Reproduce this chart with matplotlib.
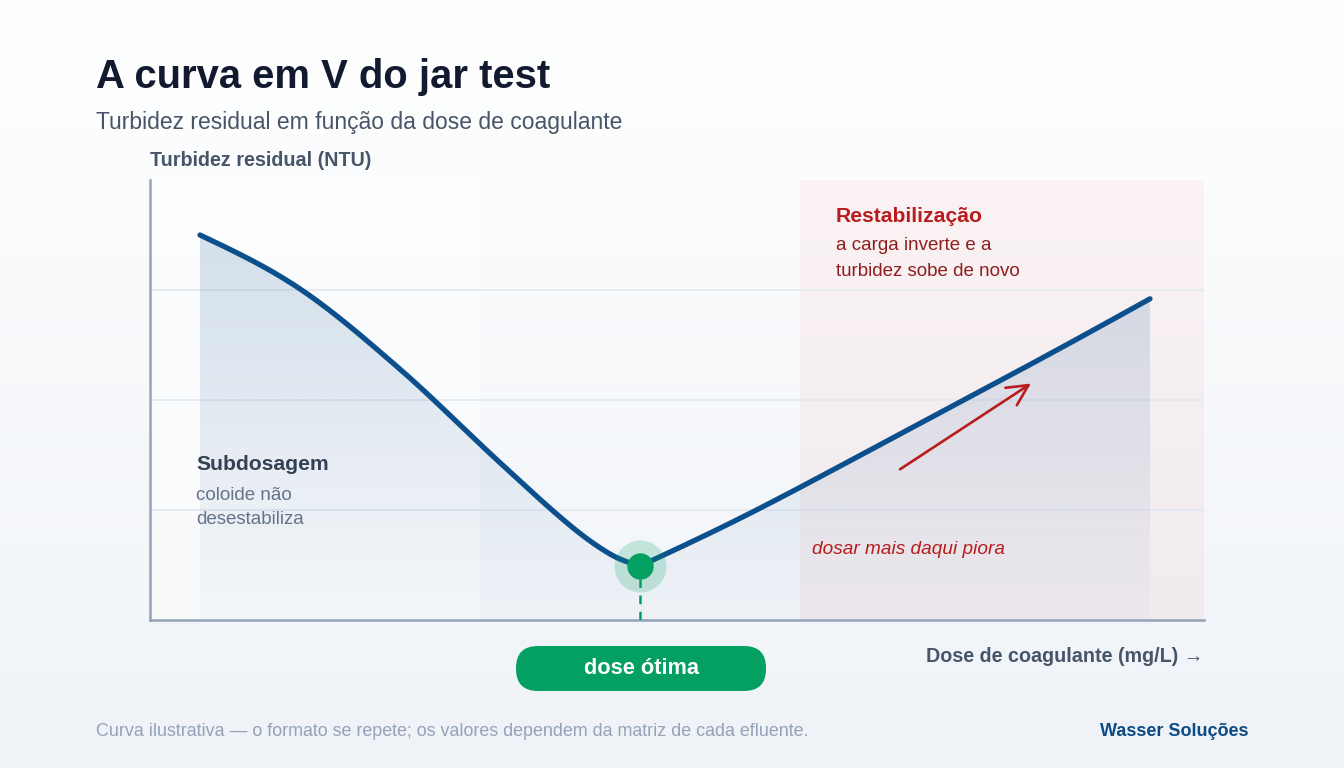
import numpy as np
import matplotlib
matplotlib.use("Agg")
import matplotlib.pyplot as plt
from matplotlib.patches import FancyBboxPatch

plt.rcParams['font.family'] = ['Liberation Sans', 'DejaVu Sans']

# data (illustrative curve, dose in mg/L, turbidity in NTU)
dose_left = [5, 15, 25, 35, 42, 46, 49]
turb_left = [3.50, 3.01, 2.28, 1.43, 0.86, 0.60, 0.49]
dose_right = [49, 60, 75, 90, 100]
turb_right = [0.49, 0.97, 1.69, 2.42, 2.92]
dose_opt = 49
turb_opt = 0.49
under_zone = (0, 33)
over_zone = (65, 105.4)
grid_levels = [1, 2, 3]

NAVY = "#0b4f8c"
GREEN = "#03a062"
RED = "#b91c1c"
SLATE = "#475569"

W, H = 1344, 768


def hermite(xs, ys, n=40):
    # smooth drawing path through the read points
    x = np.asarray(xs, float)
    y = np.asarray(ys, float)
    d = np.diff(y) / np.diff(x)
    m = np.zeros_like(y)
    m[1:-1] = (y[2:] - y[:-2]) / (x[2:] - x[:-2])
    m[0] = (3 * d[0] - m[1]) / 2
    m[-1] = (3 * d[-1] - m[-2]) / 2
    px, py = [], []
    t = np.linspace(0, 1, n, endpoint=False)
    for i in range(len(x) - 1):
        h = x[i + 1] - x[i]
        h00 = 2 * t**3 - 3 * t**2 + 1
        h10 = t**3 - 2 * t**2 + t
        h01 = -2 * t**3 + 3 * t**2
        h11 = t**3 - t**2
        px.append(x[i] + h * t)
        py.append(h00 * y[i] + h10 * h * m[i] + h01 * y[i + 1] + h11 * h * m[i + 1])
    px.append([x[-1]])
    py.append([y[-1]])
    return np.concatenate(px), np.concatenate(py)


fig = plt.figure(figsize=(W / 100, H / 100), dpi=100)

# background gradient
bg = fig.add_axes([0, 0, 1, 1], zorder=0)
grad = np.linspace(0, 1, 256)[:, None]
top = np.array([1.0, 1.0, 1.0])
bot = np.array([239, 243, 248]) / 255
img = top + (bot - top) * grad[..., None]
bg.imshow(np.repeat(img, 2, axis=1), aspect="auto", extent=(0, 1, 0, 1))
bg.axis("off")

# main axes in pixel placement
x0, x1, y0, y1 = 150, 1204, 180, 620
ax = fig.add_axes([x0 / W, 1 - y1 / H, (x1 - x0) / W, (y1 - y0) / H], zorder=1)
ax.patch.set_alpha(0)

ax.axvspan(*under_zone, color="white", alpha=0.5, lw=0, zorder=0)
ax.axvspan(*over_zone, color="#ef4444", alpha=0.05, lw=0, zorder=0)
for g in grid_levels:
    ax.axhline(g, color="#e2e8f0", lw=1.2, zorder=1)

lx, ly = hermite(dose_left, turb_left)
rx, ry = hermite(dose_right, turb_right)
cx = np.concatenate([lx, rx[1:]])
cy = np.concatenate([ly, ry[1:]])

# gradient fill under the curve
poly = ax.fill_between(cx, 0, cy, color="none", lw=0)
navy_rgb = np.array(matplotlib.colors.to_rgb(NAVY))
fill = np.zeros((256, 2, 4))
fill[..., :3] = navy_rgb
fill[..., 3] = np.linspace(0.19, 0.02, 256)[:, None]
im = ax.imshow(fill, aspect="auto", extent=(0, 105.4, 0, 4), zorder=2, origin="upper")
im.set_clip_path(poly.get_paths()[0], transform=ax.transData)
ax.set_xlim(0, 105.4)
ax.set_ylim(0, 4)

ax.plot(cx, cy, color=NAVY, lw=3.8, solid_capstyle="round", solid_joinstyle="round", zorder=4)

ax.plot([dose_opt, dose_opt], [0, turb_opt], color=GREEN, lw=1.8, ls=(0, (3.5, 3)), zorder=3)
ax.scatter([dose_opt], [turb_opt], s=1400, color=GREEN, alpha=0.2, lw=0, zorder=5)
ax.scatter([dose_opt], [turb_opt], s=360, color=GREEN, lw=0, zorder=6)

ax.annotate("", xy=(88.1, 2.15), xytext=(75.0, 1.37),
            arrowprops=dict(arrowstyle="->,head_length=1.5,head_width=0.75", color=RED, lw=1.9,
                            shrinkA=0, shrinkB=0),
            zorder=6)

for s in ["top", "right"]:
    ax.spines[s].set_visible(False)
for s in ["left", "bottom"]:
    ax.spines[s].set_color("#94a3b8")
    ax.spines[s].set_linewidth(1.8)
ax.set_xticks([])
ax.set_yticks([])

# overlay in pixel coordinates for text
ov = fig.add_axes([0, 0, 1, 1], zorder=3)
ov.set_xlim(0, W)
ov.set_ylim(H, 0)
ov.axis("off")

ov.text(96, 77, "A curva em V do jar test", fontsize=28.8, fontweight="bold",
        color="#111a2e", va="center")
ov.text(96, 122, "Turbidez residual em função da dose de coagulante", fontsize=16.5,
        color=SLATE, va="center")
ov.text(150, 161, "Turbidez residual (NTU)", fontsize=14.2, fontweight="bold",
        color=SLATE, va="center")

ov.text(196, 465, "Subdosagem", fontsize=15.2, fontweight="bold", color="#334155", va="center")
ov.text(196, 495, "coloide não", fontsize=13.5, color="#64748b", va="center")
ov.text(196, 520, "desestabiliza", fontsize=13.5, color="#64748b", va="center")

ov.text(836, 216, "Restabilização", fontsize=15.2, fontweight="bold", color=RED, va="center")
ov.text(836, 246, "a carga inverte e a", fontsize=13.5, color="#8f1d1d", va="center")
ov.text(836, 271, "turbidez sobe de novo", fontsize=13.5, color="#8f1d1d", va="center")
ov.text(812, 550, "dosar mais daqui piora", fontsize=13.7, style="italic", color=RED, va="center")

ov.text(1204, 657, "Dose de coagulante (mg/L) →", fontsize=14.2, fontweight="bold",
        color=SLATE, va="center", ha="right")

btn = FancyBboxPatch((516, 646), 250, 45, boxstyle="round,pad=0,rounding_size=22",
                     fc=GREEN, ec="none")
ov.add_patch(btn)
ov.text(641, 669, "dose ótima", fontsize=15.7, fontweight="bold", color="white",
        ha="center", va="center")

ov.text(96, 731, "Curva ilustrativa — o formato se repete; os valores dependem da matriz de cada efluente.",
        fontsize=12.9, color="#94a3b8", va="center")
ov.text(1248, 731, "Wasser Soluções", fontsize=13, fontweight="bold", color="#0b4a85",
        va="center", ha="right")

fig.savefig("out.png", dpi=100)
